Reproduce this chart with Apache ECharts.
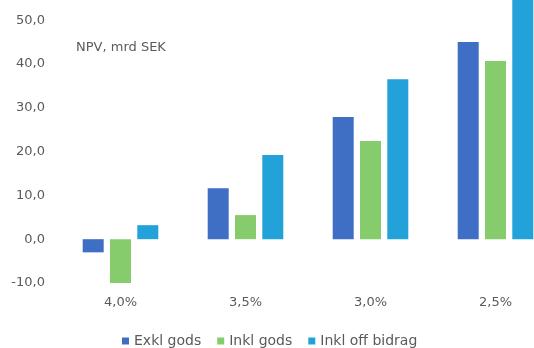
<!DOCTYPE html>
<html>
<head>
<meta charset="utf-8">
<script src="https://cdn.jsdelivr.net/npm/echarts@6/dist/echarts.min.js"></script>
<style>html,body{margin:0;padding:0;background:#fff}#c{width:534px;height:348px}</style>
</head>
<body>
<div id="c"></div>
<script>
var categories = ['4,0%', '3,5%', '3,0%', '2,5%'];
var seriesNames = ['Exkl gods', 'Inkl gods', 'Inkl off bidrag'];
var exklGods = [-3.0, 11.6, 27.9, 45.0];
var inklGods = [-10.0, 5.5, 22.4, 40.7];
var inklOffBidrag = [3.2, 19.2, 36.5, 55.5];
var yTicks = [-10, 0, 10, 20, 30, 40, 50];
var unitLabel = 'NPV, mrd SEK';

var colors = ['#3f6fc4', '#86cc6c', '#22a2d8'];
var font = 'DejaVu Sans';
var chart = echarts.init(document.getElementById('c'), null, {renderer: 'canvas'});
function bar(name, data, color) {
  return {
    name: name, type: 'bar', data: data, barWidth: 21, barGap: '30%',
    itemStyle: {color: color}
  };
}
chart.setOption({
  animation: false,
  backgroundColor: '#ffffff',
  title: {
    text: unitLabel, left: 71, top: 36,
    textStyle: {fontFamily: font, fontSize: 13, fontWeight: 'normal', color: '#5a5a5a'}
  },
  legend: {
    data: seriesNames, left: 117, top: 329, icon: 'rect', itemWidth: 7, itemHeight: 7, itemGap: 16,
    textStyle: {fontFamily: font, fontSize: 14, color: '#5a5a5a'}
  },
  grid: {left: 58, top: 0, width: 500, height: 283, containLabel: false, outerBoundsMode: 'none'},
  xAxis: {
    type: 'category', data: categories,
    axisLine: {show: false}, axisTick: {show: false},
    axisLabel: {fontFamily: font, fontSize: 13, color: '#5a5a5a', margin: 13}
  },
  yAxis: {
    type: 'value', min: -10, max: 54.6, interval: 10,
    splitLine: {show: false}, axisLine: {show: false}, axisTick: {show: false},
    axisLabel: {fontFamily: font, fontSize: 13, color: '#5a5a5a', margin: 13,
      formatter: function (v) {
        return yTicks.indexOf(Math.round(v * 10) / 10) >= 0 ? v.toFixed(1).replace('.', ',') : '';
      }}
  },
  series: [
    bar(seriesNames[0], exklGods, colors[0]),
    bar(seriesNames[1], inklGods, colors[1]),
    bar(seriesNames[2], inklOffBidrag, colors[2])
  ]
});
</script>
</body>
</html>
